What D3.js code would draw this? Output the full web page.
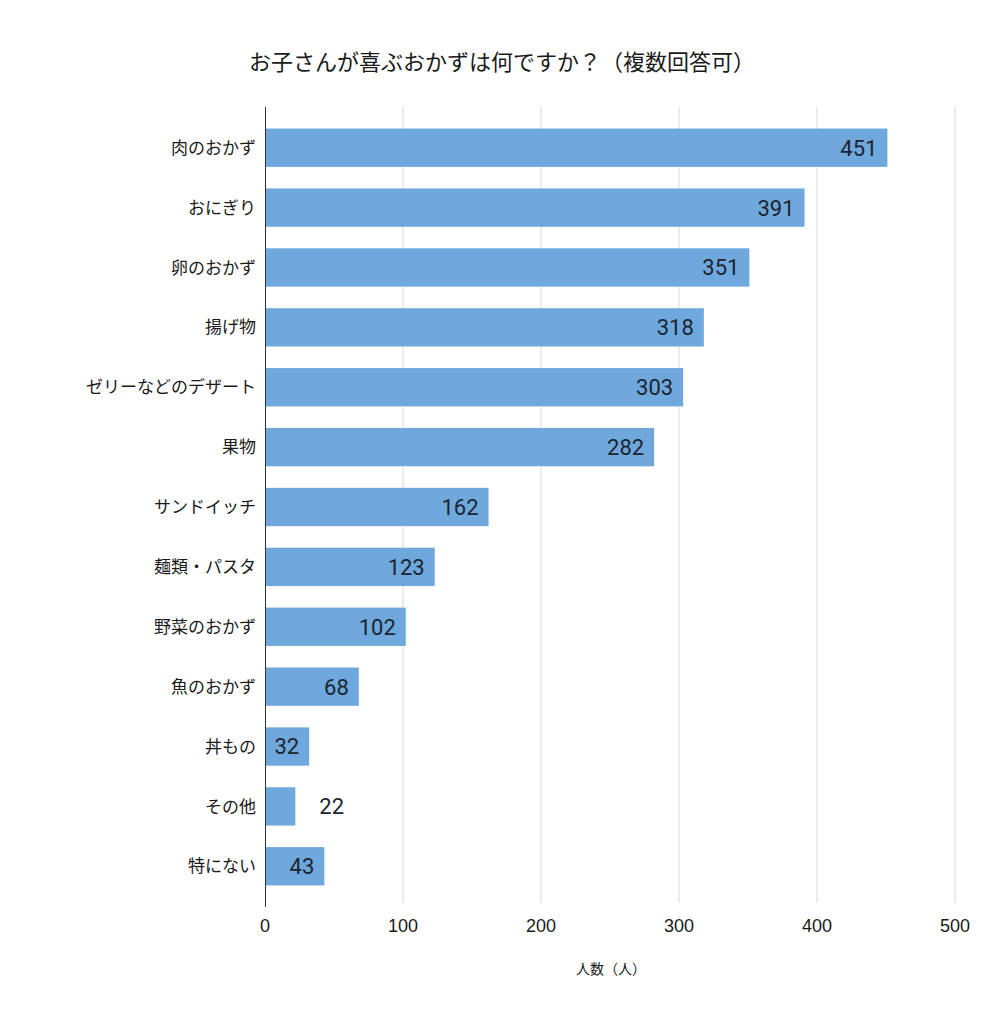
<!DOCTYPE html>
<html>
<head>
<meta charset="utf-8">
<script src="https://cdn.jsdelivr.net/npm/d3@7"></script>
<style>
  body { margin: 0; background: #fff; }
  text { font-family: "Noto Sans CJK JP", Roboto, sans-serif; }
</style>
</head>
<body>
<div id="vis"></div>
<script>
// chart data
const categories = ["肉のおかず", "おにぎり", "卵のおかず", "揚げ物", "ゼリーなどのデザート", "果物",
                    "サンドイッチ", "麺類・パスタ", "野菜のおかず", "魚のおかず", "丼もの", "その他", "特にない"];
const counts = [451, 391, 351, 318, 303, 282, 162, 123, 102, 68, 32, 22, 43];
const xTicks = [0, 100, 200, 300, 400, 500];
const titleText = "お子さんが喜ぶおかずは何ですか？（複数回答可）";
const xTitle = "人数（人）";

// frame constants
const FRAME_WIDTH = 1006;
const FRAME_HEIGHT = 1024;
const PLOT = {left: 265, right: 955, top: 107, bottom: 907};

const FRAME = d3.select("#vis")
                .append("svg")
                  .attr("width", FRAME_WIDTH)
                  .attr("height", FRAME_HEIGHT);

const X_SCALE = d3.scaleLinear()
                  .domain([0, 500])
                  .range([PLOT.left, PLOT.right]);

const Y_SCALE = d3.scaleBand()
                  .domain(categories)
                  .range([PLOT.top, PLOT.bottom])
                  .paddingInner(0.36)
                  .paddingOuter(0.36);

// title
FRAME.append("text")
     .attr("x", 502)
     .attr("y", 70)
     .attr("text-anchor", "middle")
     .attr("font-size", "22px")
     .attr("fill", "#1a1a1a")
     .text(titleText);

// gridlines
FRAME.append("g")
     .selectAll("line")
     .data(xTicks.slice(1))
     .enter()
     .append("line")
       .attr("x1", (d) => { return X_SCALE(d); })
       .attr("x2", (d) => { return X_SCALE(d); })
       .attr("y1", PLOT.top)
       .attr("y2", PLOT.bottom - 4)
       .attr("stroke", "#d9d9d9")
       .attr("stroke-width", 1);

// bars
const data = categories.map((c, i) => { return {name: c, value: counts[i]}; });

FRAME.append("g")
     .selectAll("rect")
     .data(data)
     .enter()
     .append("rect")
       .attr("x", X_SCALE(0))
       .attr("y", (d) => { return Y_SCALE(d.name); })
       .attr("width", (d) => { return X_SCALE(d.value) - X_SCALE(0); })
       .attr("height", Y_SCALE.bandwidth())
       .attr("fill", "#6fa8dc");

// value labels (inside the bar end, outside when bar is too short)
FRAME.append("g")
     .selectAll("text")
     .data(data)
     .enter()
     .append("text")
       .attr("x", (d) => { return d.value < 30 ? X_SCALE(d.value) + 24 : X_SCALE(d.value) - 10; })
       .attr("y", (d) => { return Y_SCALE(d.name) + Y_SCALE.bandwidth() / 2; })
       .attr("dy", "0.36em")
       .attr("text-anchor", (d) => { return d.value < 30 ? "start" : "end"; })
       .style("font-family", "Roboto, sans-serif")
       .attr("font-size", "22px")
       .attr("fill", "#1c2430")
       .text((d) => { return d.value; });

// y axis line and category labels
FRAME.append("line")
     .attr("x1", PLOT.left + 0.5)
     .attr("x2", PLOT.left + 0.5)
     .attr("y1", PLOT.top)
     .attr("y2", PLOT.bottom)
     .attr("stroke", "#333")
     .attr("stroke-width", 1);

FRAME.append("g")
     .selectAll("text")
     .data(categories)
     .enter()
     .append("text")
       .attr("x", PLOT.left - 9)
       .attr("y", (d) => { return Y_SCALE(d) + Y_SCALE.bandwidth() / 2; })
       .attr("dy", "0.36em")
       .attr("text-anchor", "end")
       .attr("font-size", "17px")
       .attr("fill", "#1a1a1a")
       .text((d) => { return d; });

// x axis tick labels
FRAME.append("g")
     .selectAll("text")
     .data(xTicks)
     .enter()
     .append("text")
       .attr("x", (d) => { return X_SCALE(d); })
       .attr("y", 932)
       .attr("text-anchor", "middle")
       .style("font-family", "'Liberation Sans', Arial, sans-serif")
       .attr("font-size", "18px")
       .attr("fill", "#1a1a1a")
       .text((d) => { return d; });

// x axis title
FRAME.append("text")
     .attr("x", 611)
     .attr("y", 974)
     .attr("text-anchor", "middle")
     .attr("font-size", "14px")
     .attr("fill", "#1a1a1a")
     .text(xTitle);
</script>
</body>
</html>
